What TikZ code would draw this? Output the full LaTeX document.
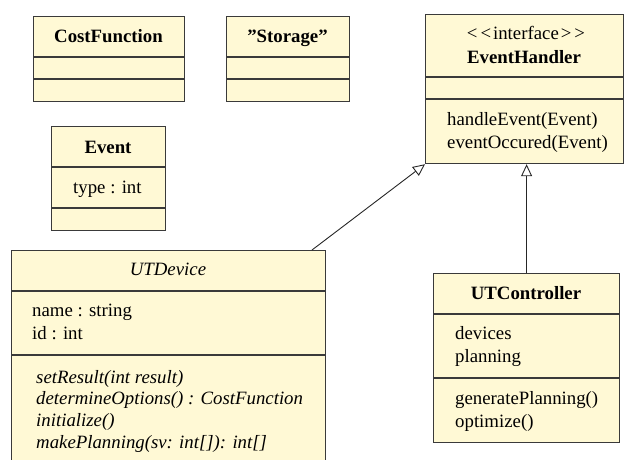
\documentclass[tikz,border=0pt]{standalone}
\usepackage{fontspec}
\setmainfont{Liberation Serif}
\usetikzlibrary{arrows.meta}
\definecolor{umlfill}{HTML}{FFF9D5}
\definecolor{umlline}{HTML}{3A3A3A}
\begin{document}
\begin{tikzpicture}[x=1pt,y=-1pt,
  box/.style={draw=umlline,fill=umlfill,line width=1.2pt,inner sep=0pt,anchor=north west},
  divider/.style={draw=umlline,line width=1.2pt},
  txt/.style={inner sep=0pt,anchor=base west,font=\fontsize{18.8}{23}\selectfont},
  itxt/.style={txt,font=\fontsize{18.8}{23}\selectfont\itshape},
  ttl/.style={inner sep=0pt,anchor=base,font=\fontsize{18.8}{23}\selectfont\bfseries},
  gen/.style={draw=black!85,line width=0.9pt,-{Triangle[open,length=12pt,width=11pt,fill=white]}}]
\useasboundingbox (0,0) rectangle (624,459);

% CostFunction
\node[box,minimum width=151pt,minimum height=85pt] (cf) at (33,16) {};
\draw[divider] (33,57) -- (184,57);
\draw[divider] (33,79) -- (184,79);
\node[ttl] (cft) at (108.5,42.5) {CostFunction};

% Storage
\node[box,minimum width=123pt,minimum height=85pt] (st) at (226,16) {};
\draw[divider] (226,57) -- (349,57);
\draw[divider] (226,79) -- (349,79);
\node[ttl] (stt) at (287.5,42.5) {”Storage”};

% Event
\node[box,minimum width=114pt,minimum height=104pt] (ev) at (51,126) {};
\draw[divider] (51,167) -- (165,167);
\draw[divider] (51,208) -- (165,208);
\node[ttl] (evt) at (108,153) {Event};
\node[txt] (eva) at (73,193) {type : int};

% EventHandler
\node[box,minimum width=198pt,minimum height=149pt] (eh) at (425,14) {};
\draw[divider] (425,77) -- (623,77);
\draw[divider] (425,99) -- (623,99);
\node[inner sep=0pt,anchor=base,font=\fontsize{18.8}{23}\selectfont] (ehs) at (526,39) {<\kern3pt<\kern2pt interface\kern2pt>\kern3pt>};
\node[ttl] (eht) at (524,63) {EventHandler};
\node[txt] (ehm1) at (447,125) {handleEvent(Event)};
\node[txt] (ehm2) at (447,148) {eventOccured(Event)};

% UTDevice
\node[box,minimum width=314pt,minimum height=220pt] (dev) at (11,250) {};
\draw[divider] (11,291) -- (325,291);
\draw[divider] (11,355) -- (325,355);
\node[inner sep=0pt,anchor=base,font=\fontsize{18.8}{23}\selectfont\itshape] (devt) at (168,275) {UTDevice};
\node[txt] (deva1) at (32,316) {name : string};
\node[txt] (deva2) at (32,339) {id : int};
\node[itxt] (devm1) at (36,383) {setResult(int result)};
\node[itxt] (devm2) at (36,404) {determineOptions() : CostFunction};
\node[itxt] (devm3) at (36,426) {initialize()};
\node[itxt] (devm4) at (36,448) {makePlanning(sv: int[]): int[]};

% UTController
\node[box,minimum width=186pt,minimum height=169pt] (ctrl) at (433,273) {};
\draw[divider] (433,314) -- (619,314);
\draw[divider] (433,378) -- (619,378);
\node[ttl] (ctrlt) at (526,299) {UTController};
\node[txt] (ctrla1) at (455,339) {devices};
\node[txt] (ctrla2) at (455,362) {planning};
\node[txt] (ctrlm1) at (455,404) {generatePlanning()};
\node[txt] (ctrlm2) at (455,427) {optimize()};

% Generalizations
\coordinate (devtop) at (312,250);
\draw[gen] (devtop) -- (eh.south west);
\draw[gen] (ctrl.north) -- (ctrl.north |- eh.south);
\end{tikzpicture}
\end{document}
